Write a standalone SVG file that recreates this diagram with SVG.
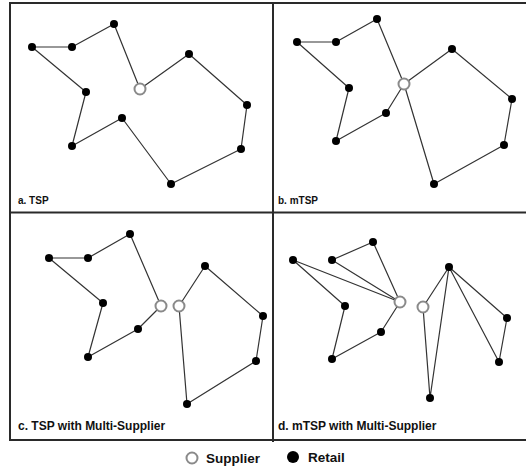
<svg xmlns="http://www.w3.org/2000/svg" width="526" height="472" viewBox="0 0 526 472">
<style>
.frame{stroke:#2a2a2a;stroke-width:2;fill:none}
.edge{stroke:#333;stroke-width:1.2;fill:none;stroke-linejoin:round}
.retail{fill:#000}
.sup{fill:#fff;stroke:#8a8a8a;stroke-width:2}
.lab{font-family:"Liberation Sans",Arial,sans-serif;font-weight:bold;fill:#111}
.small{font-size:10px}
.big{font-size:12px}
.leg{font-size:13.5px}
</style>
<rect width="526" height="472" fill="#fff"/>
<g id="frame">
<path class="frame" d="M526,3 H10 V440 H526 M273,3 V442 M10,212.5 H526"/>
</g>
<g id="connectors">
<path class="edge" d="M140,89 L114,24 L72,47 L32,47 L86,92 L72,146 L122,118 L171,184 L241,149 L247,105 L189,54 Z"/>
<path class="edge" d="M404,84 L377,19 L336,42 L297,42 L349,88 L336,141 L386,113 Z"/>
<path class="edge" d="M404,84 L452,49 L512,99 L504,145 L434,184 Z"/>
<path class="edge" d="M161,306 L130,234 L88,258 L49,258 L103,303 L88,357 L138,329 Z"/>
<path class="edge" d="M179,306 L205,266 L263,316 L256,361 L187,404 Z"/>
<path class="edge" d="M400,302 L373,242 L332,260 Z"/>
<path class="edge" d="M400,302 L293,260 L345,306 L332,359 L381,332 Z"/>
<path class="edge" d="M423,307 L449,267 L430,398 Z"/>
<path class="edge" d="M449,267 L507,318 L499,362 Z"/>
</g>
<g id="panel-a">
<circle class="retail" cx="114" cy="24" r="4"/>
<circle class="retail" cx="72" cy="47" r="4"/>
<circle class="retail" cx="32" cy="47" r="4"/>
<circle class="retail" cx="86" cy="92" r="4"/>
<circle class="retail" cx="72" cy="146" r="4"/>
<circle class="retail" cx="122" cy="118" r="4"/>
<circle class="retail" cx="171" cy="184" r="4"/>
<circle class="retail" cx="241" cy="149" r="4"/>
<circle class="retail" cx="247" cy="105" r="4"/>
<circle class="retail" cx="189" cy="54" r="4"/>
<circle class="sup" cx="140" cy="89" r="5.5"/>
<text class="lab small" x="18" y="204">a. TSP</text>
</g>
<g id="panel-b">
<circle class="retail" cx="377" cy="19" r="4"/>
<circle class="retail" cx="336" cy="42" r="4"/>
<circle class="retail" cx="297" cy="42" r="4"/>
<circle class="retail" cx="349" cy="88" r="4"/>
<circle class="retail" cx="336" cy="141" r="4"/>
<circle class="retail" cx="386" cy="113" r="4"/>
<circle class="retail" cx="452" cy="49" r="4"/>
<circle class="retail" cx="512" cy="99" r="4"/>
<circle class="retail" cx="504" cy="145" r="4"/>
<circle class="retail" cx="434" cy="184" r="4"/>
<circle class="sup" cx="404" cy="84" r="5.5"/>
<text class="lab small" x="278" y="204">b. mTSP</text>
</g>
<g id="panel-c">
<circle class="retail" cx="130" cy="234" r="4"/>
<circle class="retail" cx="88" cy="258" r="4"/>
<circle class="retail" cx="49" cy="258" r="4"/>
<circle class="retail" cx="103" cy="303" r="4"/>
<circle class="retail" cx="88" cy="357" r="4"/>
<circle class="retail" cx="138" cy="329" r="4"/>
<circle class="retail" cx="205" cy="266" r="4"/>
<circle class="retail" cx="263" cy="316" r="4"/>
<circle class="retail" cx="256" cy="361" r="4"/>
<circle class="retail" cx="187" cy="404" r="4"/>
<circle class="sup" cx="161" cy="306" r="5.5"/>
<circle class="sup" cx="179" cy="306" r="5.5"/>
<text class="lab big" x="18" y="430">c. TSP with Multi-Supplier</text>
</g>
<g id="panel-d">
<circle class="retail" cx="373" cy="242" r="4"/>
<circle class="retail" cx="332" cy="260" r="4"/>
<circle class="retail" cx="293" cy="260" r="4"/>
<circle class="retail" cx="345" cy="306" r="4"/>
<circle class="retail" cx="332" cy="359" r="4"/>
<circle class="retail" cx="381" cy="332" r="4"/>
<circle class="retail" cx="449" cy="267" r="4"/>
<circle class="retail" cx="507" cy="318" r="4"/>
<circle class="retail" cx="499" cy="362" r="4"/>
<circle class="retail" cx="430" cy="398" r="4"/>
<circle class="sup" cx="400" cy="302" r="5.5"/>
<circle class="sup" cx="423" cy="307" r="5.5"/>
<text class="lab big" x="278" y="430">d. mTSP with Multi-Supplier</text>
</g>
<g id="legend">
<circle class="sup" cx="192" cy="458" r="5.5"/>
<text class="lab leg" x="206" y="463">Supplier</text>
<circle class="retail" cx="293" cy="457" r="6"/>
<text class="lab leg" x="308" y="462">Retail</text>
</g>
</svg>
